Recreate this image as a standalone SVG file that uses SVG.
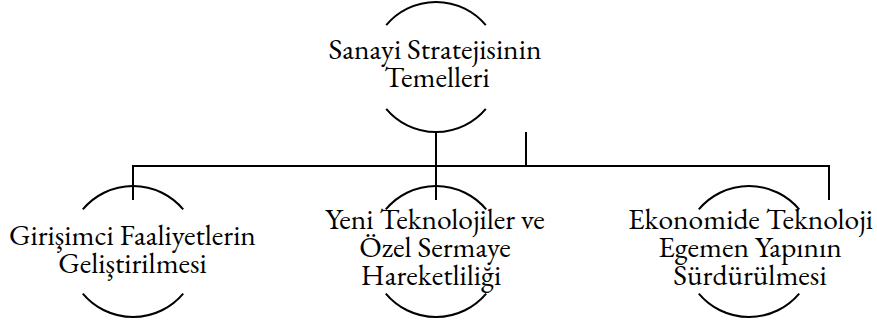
<svg xmlns="http://www.w3.org/2000/svg" width="877" height="321" viewBox="0 0 877 321">
<style>
.arc{fill:none;stroke:#000;stroke-width:2}
.ln{fill:none;stroke:#000;stroke-width:2}
.t{fill:#000;text-anchor:middle}
</style>
<rect width="877" height="321" fill="#fff"/>
<g id="connectors">
<path class="ln" d="M436 132V200"/>
<path class="ln" d="M133 166H829"/>
<path class="ln" d="M133 165V200"/>
<path class="ln" d="M829 165V200"/>
<path class="ln" d="M526 132V166"/>
</g>
<g id="node-root" font-family="EB Garamond, Liberation Serif, serif" font-size="29.5">
<path class="arc" d="M386.2 25.2A65 65 0 0 1 485.8 25.2"/>
<path class="arc" d="M386.2 108.8A65 65 0 0 0 485.8 108.8"/>
<text class="t"><tspan x="435" y="59">Sanayi Stratejisinin</tspan><tspan x="437" y="87">Temelleri</tspan></text>
</g>
<g id="node-left" font-family="EB Garamond, Liberation Serif, serif" font-size="29.5">
<path class="arc" d="M82.8 209.4A65.5 65.5 0 0 1 183.2 209.4"/>
<path class="arc" d="M82.8 293.6A65.5 65.5 0 0 0 183.2 293.6"/>
<text class="t"><tspan x="132.5" y="245">Girişimci Faaliyetlerin</tspan><tspan x="132.5" y="273">Geliştirilmesi</tspan></text>
</g>
<g id="node-middle" font-family="EB Garamond, Liberation Serif, serif" font-size="29.5">
<path class="arc" d="M385.8 209.4A65.5 65.5 0 0 1 486.2 209.4"/>
<path class="arc" d="M385.8 293.6A65.5 65.5 0 0 0 486.2 293.6"/>
<text class="t"><tspan x="435" y="229">Yeni Teknolojiler ve</tspan><tspan x="435" y="257">Özel Sermaye</tspan><tspan x="431" y="285">Hareketliliği</tspan></text>
</g>
<g id="node-right" font-family="EB Garamond, Liberation Serif, serif" font-size="29.5">
<path class="arc" d="M698.8 209.4A65.5 65.5 0 0 1 799.2 209.4"/>
<path class="arc" d="M698.8 293.6A65.5 65.5 0 0 0 799.2 293.6"/>
<text class="t"><tspan x="750.5" y="229">Ekonomide Teknoloji</tspan><tspan x="750" y="257">Egemen Yapının</tspan><tspan x="750" y="285">Sürdürülmesi</tspan></text>
</g>
</svg>
